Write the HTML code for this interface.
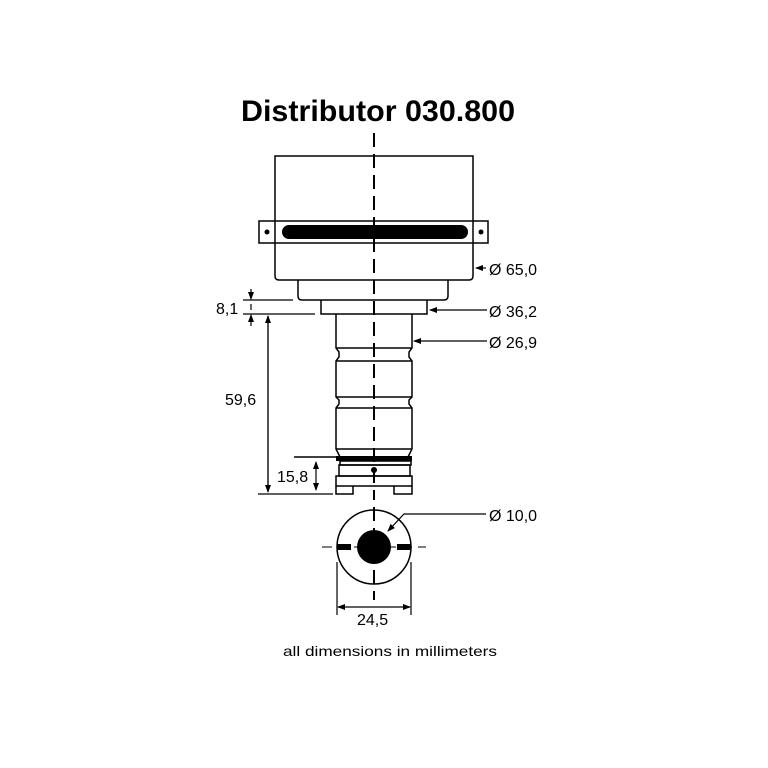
<!DOCTYPE html>
<html><head><meta charset="utf-8"><style>
html,body{margin:0;padding:0;background:#fff;}
svg{display:block;}
text{font-family:"Liberation Sans",sans-serif;fill:#000;}
</style></head><body>
<svg width="768" height="768" viewBox="0 0 768 768" xmlns="http://www.w3.org/2000/svg">
<defs>
<marker id="a" markerWidth="8" markerHeight="8" refX="7" refY="4" orient="auto" markerUnits="userSpaceOnUse"><path d="M0,1 L8,4 L0,7 Z" fill="#000"/></marker>
</defs>
<text x="241" y="121" font-size="30" font-weight="bold" textLength="274" lengthAdjust="spacingAndGlyphs">Distributor  030.800</text>
<g fill="none" stroke="#000" stroke-width="1.5">
<path d="M275,156 H473 V276 Q473,280 469,280 H279 Q275,280 275,276 Z" fill="#fff"/>
<rect x="259" y="221" width="229" height="22" fill="#fff"/>
<line x1="275" y1="221" x2="275" y2="243"/><line x1="473" y1="221" x2="473" y2="243"/>
<path d="M298,280 V296 Q298,300 302,300 H444 Q448,300 448,296 V280"/>
<path d="M321,300 V314 H427 V300"/>
<path d="M336,314 V348 L339,352 V357 L336,361 V397 L339,400 V404 L336,408 V449 L340,457 H408 L412,449 V408 L409,404 V400 L412,397 V361 L409,357 V352 L412,348 V314"/>
<line x1="336" y1="348" x2="412" y2="348"/>
<line x1="336" y1="361" x2="412" y2="361"/>
<line x1="336" y1="397" x2="412" y2="397"/>
<line x1="336" y1="408" x2="412" y2="408"/>
<line x1="336" y1="449" x2="412" y2="449"/>
<rect x="340" y="461" width="71" height="4"/>
<rect x="339" y="465" width="71" height="11"/>
<rect x="336" y="476" width="76" height="10"/>
<path d="M336,486 V494 H353 V486 M394,486 V494 H412 V486"/>
<circle cx="374" cy="547" r="37"/>
</g>
<rect x="282" y="225" width="186" height="14" rx="7" fill="#000"/>
<circle cx="267" cy="232" r="2.5" fill="#000"/>
<circle cx="481" cy="232" r="2.5" fill="#000"/>
<rect x="336" y="456" width="76" height="5" fill="#000"/>
<line x1="294" y1="457" x2="336" y2="457" stroke="#000" stroke-width="1.5"/>
<circle cx="374" cy="470" r="3" fill="#000"/>
<circle cx="374" cy="547" r="17" fill="#000"/>
<rect x="337" y="544" width="14" height="6" fill="#000"/>
<rect x="397" y="544" width="14" height="6" fill="#000"/>
<g stroke="#000" stroke-width="2" fill="none">
<line x1="374" y1="133" x2="374" y2="500" stroke-dasharray="14,7"/>
<line x1="374" y1="507" x2="374" y2="600" stroke-dasharray="14,7"/>
<line x1="322" y1="547" x2="426" y2="547" stroke-dasharray="10,6" stroke-width="1"/>
</g>
<g stroke="#000" stroke-width="1.2" fill="none">
<line x1="486" y1="268" x2="476" y2="268" marker-end="url(#a)"/>
<line x1="487" y1="310" x2="430" y2="310" marker-end="url(#a)"/>
<line x1="487" y1="341" x2="414" y2="341" marker-end="url(#a)"/>
<path d="M486,514 H404 L388,531" marker-end="url(#a)"/>
<line x1="243" y1="300" x2="293" y2="300"/>
<line x1="243" y1="314" x2="315" y2="314"/>
<line x1="251" y1="289" x2="251" y2="299" marker-end="url(#a)"/>
<line x1="251" y1="326" x2="251" y2="315" marker-end="url(#a)"/>
<line x1="251" y1="304" x2="251" y2="310"/>
<line x1="268" y1="490" x2="268" y2="316" marker-end="url(#a)"/>
<line x1="268" y1="316" x2="268" y2="492" marker-end="url(#a)"/>
<line x1="258" y1="494" x2="333" y2="494"/>
<line x1="316" y1="475" x2="316" y2="462" marker-end="url(#a)"/>
<line x1="316" y1="475" x2="316" y2="490" marker-end="url(#a)"/>
<line x1="337" y1="562" x2="337" y2="615"/>
<line x1="411" y1="562" x2="411" y2="615"/>
<line x1="374" y1="607" x2="338" y2="607" marker-end="url(#a)"/>
<line x1="374" y1="607" x2="410" y2="607" marker-end="url(#a)"/>
</g>
<g font-size="16">
<text x="489" y="275">Ø 65,0</text>
<text x="489" y="317">Ø 36,2</text>
<text x="489" y="348">Ø 26,9</text>
<text x="489" y="521">Ø 10,0</text>
<text x="216" y="314">8,1</text>
<text x="225" y="405">59,6</text>
<text x="277" y="482">15,8</text>
<text x="357" y="625">24,5</text>
</g>
<text x="283" y="656" font-size="14" textLength="214" lengthAdjust="spacingAndGlyphs">all dimensions in millimeters</text>
</svg>
</body></html>
